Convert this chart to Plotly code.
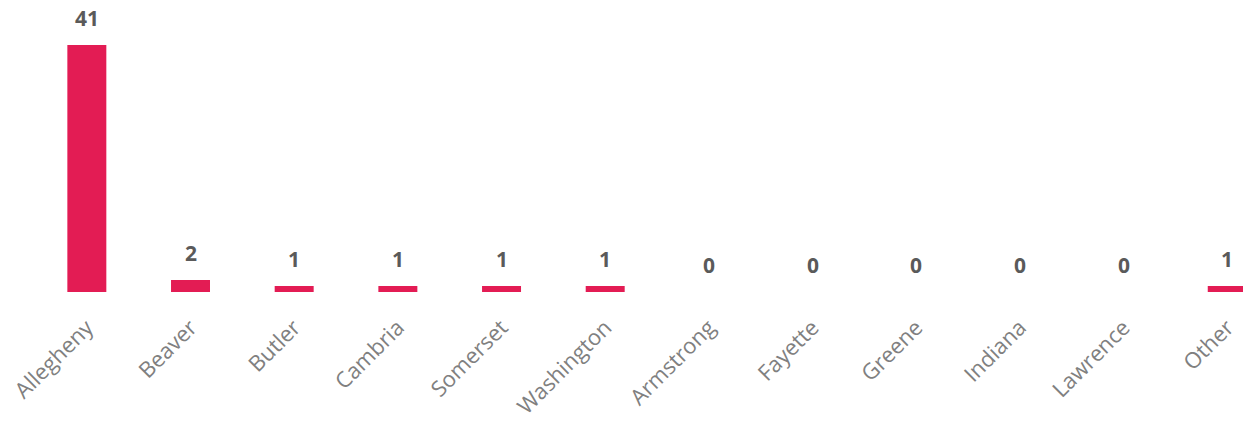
import plotly.graph_objects as go

counties = ["Allegheny", "Beaver", "Butler", "Cambria", "Somerset", "Washington",
            "Armstrong", "Fayette", "Greene", "Indiana", "Lawrence", "Other"]
counts = [41, 2, 1, 1, 1, 1, 0, 0, 0, 0, 0, 1]

BAR = "#E31C54"
fig = go.Figure()
fig.add_trace(go.Bar(
    x=counties, y=counts, width=0.376,
    marker=dict(color=BAR, line=dict(width=0)),
    hoverinfo="skip",
))

for c, v in zip(counties, counts):
    fig.add_annotation(x=c, y=v, text="<b>%d</b>" % v, showarrow=False, yanchor="bottom",
                       yshift=11, font=dict(family="Open Sans", size=21, color="#5a5a5a"))

fig.update_layout(
    width=1243, height=423,
    margin=dict(l=35, r=0, t=21, b=131, autoexpand=False),
    plot_bgcolor="white", paper_bgcolor="white",
    showlegend=False,
    bargap=0.6,
    xaxis=dict(range=[-0.5, 11.152], tickangle=-45, showgrid=False, showline=False,
               zeroline=False, ticks="outside", ticklen=13, tickcolor="rgba(0,0,0,0)",
               automargin=False,
               tickfont=dict(family="Open Sans", size=22, color="#808080")),
    yaxis=dict(range=[0, 45], visible=False, showgrid=False, zeroline=False, automargin=False),
)
fig.write_html("out.html")
